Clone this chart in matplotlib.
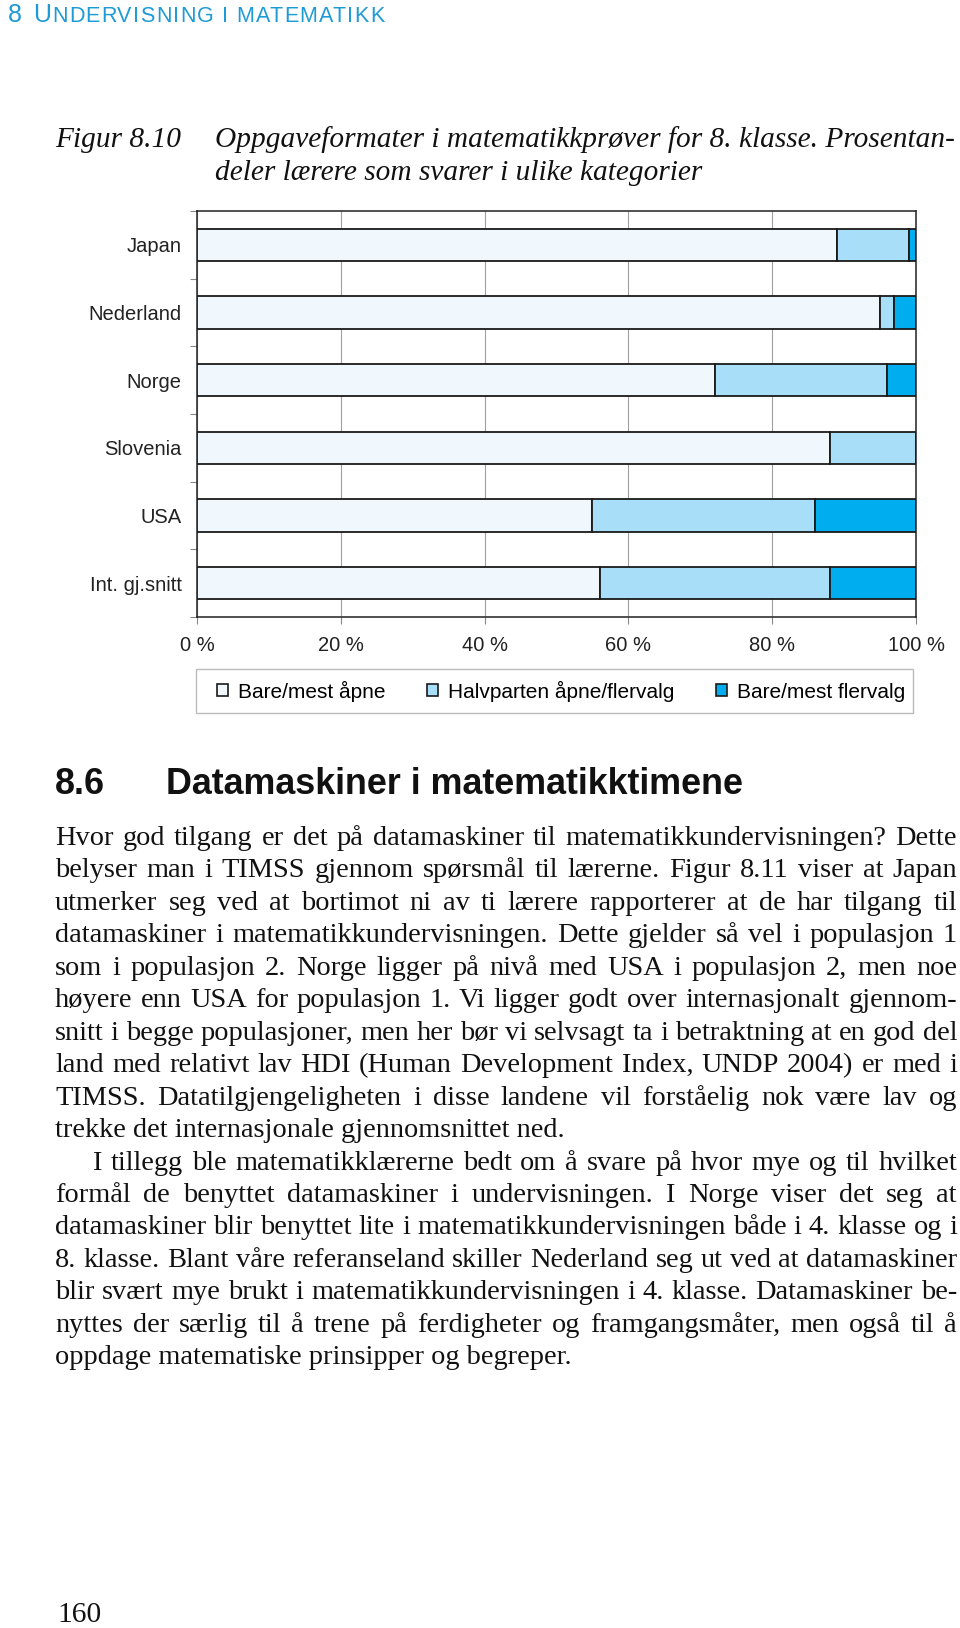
import matplotlib
matplotlib.use("Agg")
import matplotlib.pyplot as plt
import numpy as np
from matplotlib.patches import Rectangle, Patch

# === PAGE SIZE (px) ===
W, H = 960, 1628

# === CHART DATA ===
countries = ["Japan", "Nederland", "Norge", "Slovenia", "USA", "Int. gj.snitt"]
bare_aapne = [89, 95, 72, 88, 55, 56]
halvparten = [10, 2, 24, 12, 31, 32]
bare_flervalg = [1, 3, 4, 0, 14, 12]
categories = ["Bare/mest åpne", "Halvparten åpne/flervalg", "Bare/mest flervalg"]
xticks = [0, 20, 40, 60, 80, 100]
colors = ["#F0F8FE", "#A9DEF9", "#00ADEE"]

# === PAGE TEXT ===
header_num = "8"
header_first = "U"
header_rest = "NDERVISNING I MATEMATIKK"
fig_label = "Figur 8.10"
caption = ["Oppgaveformater i matematikkprøver for 8. klasse. Prosentan-",
           "deler lærere som svarer i ulike kategorier"]
section_num = "8.6"
section_title = "Datamaskiner i matematikktimene"
# (line, justified, indent)
body = [
    ("Hvor god tilgang er det på datamaskiner til matematikkundervisningen? Dette", True, False),
    ("belyser man i TIMSS gjennom spørsmål til lærerne. Figur 8.11 viser at Japan", True, False),
    ("utmerker seg ved at bortimot ni av ti lærere rapporterer at de har tilgang til", True, False),
    ("datamaskiner i matematikkundervisningen. Dette gjelder så vel i populasjon 1", True, False),
    ("som i populasjon 2. Norge ligger på nivå med USA i populasjon 2, men noe", True, False),
    ("høyere enn USA for populasjon 1. Vi ligger godt over internasjonalt gjennom-", True, False),
    ("snitt i begge populasjoner, men her bør vi selvsagt ta i betraktning at en god del", True, False),
    ("land med relativt lav HDI (Human Development Index, UNDP 2004) er med i", True, False),
    ("TIMSS. Datatilgjengeligheten i disse landene vil forståelig nok være lav og", True, False),
    ("trekke det internasjonale gjennomsnittet ned.", False, False),
    ("I tillegg ble matematikklærerne bedt om å svare på hvor mye og til hvilket", True, True),
    ("formål de benyttet datamaskiner i undervisningen. I Norge viser det seg at", True, False),
    ("datamaskiner blir benyttet lite i matematikkundervisningen både i 4. klasse og i", True, False),
    ("8. klasse. Blant våre referanseland skiller Nederland seg ut ved at datamaskiner", True, False),
    ("blir svært mye brukt i matematikkundervisningen i 4. klasse. Datamaskiner be-", True, False),
    ("nyttes der særlig til å trene på ferdigheter og framgangsmåter, men også til å", True, False),
    ("oppdage matematiske prinsipper og begreper.", False, False),
]
page_number = "160"

SANS = "Liberation Sans"
SERIF = "Liberation Serif"
BLUE = "#1E9AD6"

fig = plt.figure(figsize=(W / 100, H / 100), dpi=100)
renderer = fig.canvas.get_renderer()


def fx(x):
    return x / W


def fy(y):
    return 1 - y / H


def text_width(s, **kw):
    t = fig.text(0, 0, s, **kw)
    w = t.get_window_extent(renderer).width
    t.remove()
    return w


def fit_size(s, width, **kw):
    return 10 * width / text_width(s, fontsize=10, **kw)


def put(x, y, s, **kw):
    return fig.text(fx(x), fy(y), s, ha="left", va="baseline", **kw)


# === RUNNING HEADER (small caps, tracked to width) ===
big = dict(family=SANS, fontsize=18, color=BLUE)
small = dict(family=SANS, fontsize=15.5, color=BLUE)
put(8, 22, header_num, **big)
put(33, 22, header_first, **big)
x_start = 33 + text_width(header_first, **big) + 1
x_end = 384
natural = text_width(header_rest, **small)
track = (x_end - x_start - natural) / (len(header_rest) - 1)
for k, ch in enumerate(header_rest):
    if ch == " ":
        continue
    pre = text_width(header_rest[:k + 1], **small) - text_width(ch, **small)
    put(x_start + pre + k * track, 22, ch, **small)

# === FIGURE CAPTION ===
cap_kw = dict(family=SERIF, style="italic", color="#111111")
cap_fs = fit_size(caption[0], 740, **cap_kw)
put(55, 147, fig_label, fontsize=cap_fs, **cap_kw)
put(215, 147, caption[0], fontsize=cap_fs, **cap_kw)
put(215, 180, caption[1], fontsize=cap_fs, **cap_kw)

# === CHART ===
ax = fig.add_axes([fx(197), fy(617), (916 - 197) / W, (617 - 211) / H])
y = np.arange(len(countries))
left = np.zeros(len(countries))
for vals, col, lab in zip([bare_aapne, halvparten, bare_flervalg], colors, categories):
    ax.barh(y, vals, left=left, height=0.48, color=col, edgecolor="#1a1a1a",
            linewidth=1.3, label=lab, zorder=3)
    left += np.array(vals)

ax.set_xlim(0, 100)
ax.set_ylim(len(countries) - 0.5, -0.5)
ax.set_xticks(xticks)
ax.set_xticklabels([f"{v} %" for v in xticks], family=SANS, fontsize=14.5, color="#222222")
ax.set_yticks(y)
ax.set_yticklabels(countries, family=SANS, fontsize=14.5, color="#222222")
ax.set_yticks(np.arange(-0.5, len(countries), 1), minor=True)
ax.tick_params(axis="y", which="major", length=0, pad=11)
ax.tick_params(axis="y", which="minor", length=5, color="#888888", width=0.8)
ax.tick_params(axis="x", length=5, color="#888888", width=0.8, pad=9)
ax.grid(axis="x", color="#A0A0A0", linewidth=0.8, zorder=0)
ax.set_axisbelow(True)
for s in ax.spines.values():
    s.set_color("#222222")
    s.set_linewidth(1.1)

# legend: frameless legend inside a drawn box
handles = [Patch(facecolor=c, edgecolor="#1a1a1a", linewidth=1.2) for c in colors]
fig.legend(handles, categories, loc="center", bbox_to_anchor=(fx(561), fy(691)),
           ncol=3, frameon=False, prop={"family": SANS, "size": 15},
           handlelength=0.55, handleheight=0.55, handletextpad=0.45,
           columnspacing=2.0, borderpad=0, borderaxespad=0)
fig.add_artist(Rectangle((fx(196), fy(713)), (913 - 196) / W, (713 - 669) / H,
                         transform=fig.transFigure, fill=False,
                         edgecolor="#BBBBBB", linewidth=1.0))

# === SECTION HEADING ===
head_kw = dict(family=SANS, weight="bold", color="#111111")
head_fs = fit_size(section_title, 578, **head_kw)
put(55, 794, section_num, fontsize=head_fs, **head_kw)
put(166, 794, section_title, fontsize=head_fs, **head_kw)

# === BODY TEXT (justified) ===
body_kw = dict(family=SERIF, color="#111111")
body_fs = fit_size("trekke det internasjonale gjennomsnittet", 455, **body_kw)
X0, X1 = 55, 957
INDENT = 38
for i, (line, just, indent) in enumerate(body):
    yb = 845 + i * 32.45
    x0 = X0 + (INDENT if indent else 0)
    if not just:
        put(x0, yb, line, fontsize=body_fs, **body_kw)
        continue
    words = line.split(" ")
    widths = [text_width(w, fontsize=body_fs, **body_kw) for w in words]
    gap = (X1 - x0 - sum(widths)) / (len(words) - 1)
    x = x0
    for w, wd in zip(words, widths):
        put(x, yb, w, fontsize=body_fs, **body_kw)
        x += wd + gap

# === PAGE NUMBER ===
pn_fs = fit_size(page_number, 44, family=SERIF)
put(57, 1622, page_number, family=SERIF, fontsize=pn_fs, color="#111111")

fig.savefig("out.png", dpi=100)
